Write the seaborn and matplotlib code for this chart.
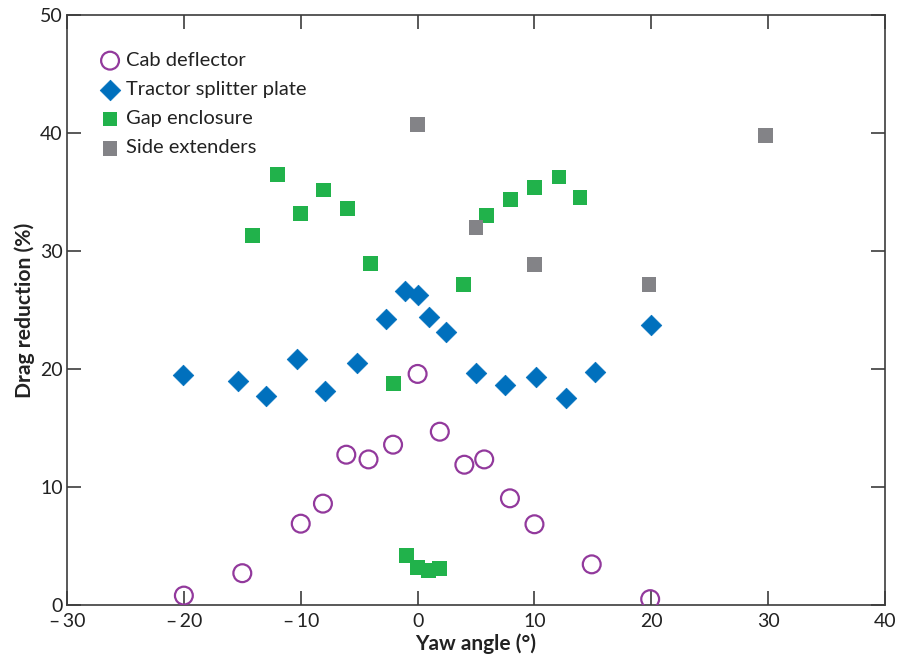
import matplotlib
matplotlib.use("Agg")
import matplotlib.pyplot as plt
import seaborn as sns
import pandas as pd

# ---- data ----
cab_x = [-20, -15, -10, -8.1, -6.1, -4.2, -2.1, 0, 1.9, 4.0, 5.7, 7.9, 10, 14.9, 19.9]
cab_y = [0.8, 2.7, 6.9, 8.6, 12.75, 12.35, 13.6, 19.6, 14.7, 11.9, 12.35, 9.05, 6.85, 3.45, 0.5]

tsp_x = [-20.1, -15.4, -13.0, -10.3, -7.9, -5.2, -2.7, -1.1, 0, 0.95, 2.45, 5.0, 7.5, 10.1, 12.7, 15.2, 20.0]
tsp_y = [19.5, 19.0, 17.7, 20.9, 18.15, 20.55, 24.25, 26.6, 26.27, 24.43, 23.13, 19.7, 18.7, 19.3, 17.6, 19.75, 23.75]

gap_x = [-14.1, -12.0, -10.0, -8.05, -6.0, -4.05, -2.05, -0.95, 0, 0.92, 1.9, 3.9, 5.9, 7.95, 10.0, 12.1, 13.9]
gap_y = [31.35, 36.5, 33.2, 35.2, 33.6, 28.95, 18.8, 4.2, 3.17, 2.9, 3.1, 27.2, 33.05, 34.4, 35.4, 36.3, 34.6]

side_x = [0, 5.0, 10.0, 19.8, 29.8]
side_y = [40.75, 32.0, 28.9, 27.2, 39.85]

labels = ["Cab deflector", "Tractor splitter plate", "Gap enclosure", "Side extenders"]
x_ticks = [-30, -20, -10, 0, 10, 20, 30, 40]
y_ticks = [0, 10, 20, 30, 40, 50]

# ---- style ----
sns.set_style("ticks")
plt.rcParams["font.family"] = ["Lato", "DejaVu Sans"]

purple = "#92399c"
blue = "#0070bd"
green = "#21b24b"
gray = "#838387"
axc = "#3c3c3c"
txt = "#222222"

fig = plt.figure(figsize=(8.97, 6.59), dpi=100)
ax = fig.add_axes([0.0747, 0.0819, 0.912, 0.8946])

df_cab = pd.DataFrame({"x": cab_x, "y": cab_y})
df_tsp = pd.DataFrame({"x": tsp_x, "y": tsp_y})
df_gap = pd.DataFrame({"x": gap_x, "y": gap_y})
df_side = pd.DataFrame({"x": side_x, "y": side_y})

sns.scatterplot(data=df_cab, x="x", y="y", ax=ax, marker="o", s=165,
                facecolor="none", edgecolor=purple, linewidth=1.6, label=labels[0], zorder=3)
sns.scatterplot(data=df_tsp, x="x", y="y", ax=ax, marker="D", s=110,
                color=blue, edgecolor=blue, linewidth=0.5, label=labels[1], zorder=3)
sns.scatterplot(data=df_gap, x="x", y="y", ax=ax, marker="s", s=115,
                color=green, edgecolor="none", linewidth=0, label=labels[2], zorder=3)
sns.scatterplot(data=df_side, x="x", y="y", ax=ax, marker="s", s=115,
                color=gray, edgecolor="none", linewidth=0, label=labels[3], zorder=3)

ax.set_xlim(-30, 40)
ax.set_ylim(0, 50)
ax.set_xticks(x_ticks)
ax.set_yticks(y_ticks)
ax.set_xticklabels([str(t).replace("-", "\u2013\u2009") for t in x_ticks])
ax.tick_params(direction="in", length=10, width=1.2, color=axc, labelsize=14,
               labelcolor=txt, top=True, right=True)
ax.tick_params(axis="x", pad=6)
ax.tick_params(axis="y", pad=3)
for sp in ax.spines.values():
    sp.set_visible(True)
    sp.set_color(axc)
    sp.set_linewidth(1.2)

ax.set_xlabel("Yaw angle (°)", fontsize=15, fontweight="bold", color=txt, labelpad=2)
ax.set_ylabel("Drag reduction (%)", fontsize=15.2, fontweight="bold", color=txt, labelpad=4)

leg = ax.legend(loc="upper left", bbox_to_anchor=(0.028, 0.952), frameon=False,
                fontsize=14.5, handletextpad=0.2, labelspacing=0.6, borderaxespad=0,
                handlelength=1.2, labelcolor=txt)

fig.savefig("out.png", dpi=100)
